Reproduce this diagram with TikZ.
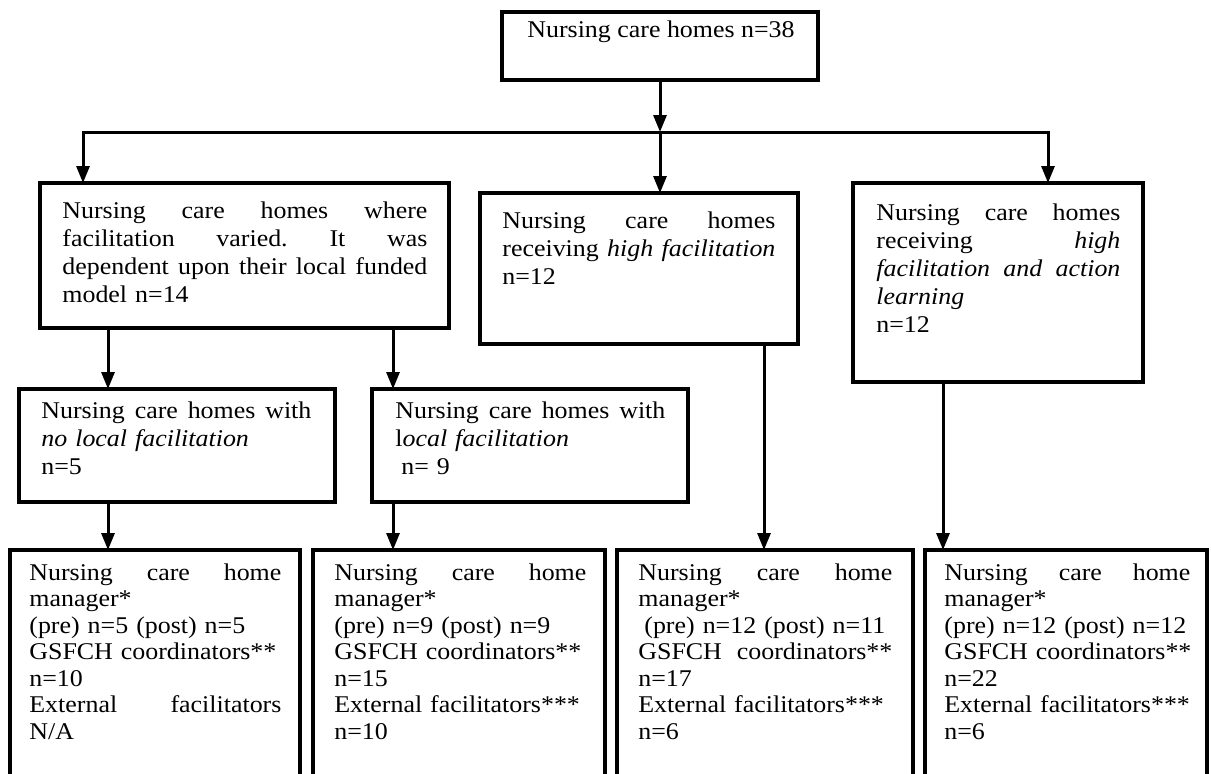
\documentclass[tikz,border=0pt]{standalone}
\usepackage{fontspec}
\setmainfont{Liberation Serif}[FakeStretch=1.08]
\usetikzlibrary{arrows.meta}
% a line of text spread to the full width \tw of its box
\newcommand{\spreadline}[1]{\makebox[\tw][s]{\spaceskip=0.25em plus 1fil\relax
  \xspaceskip=\spaceskip #1}}
\newcommand{\oneline}[1]{\mbox{#1}}
\begin{document}
\begin{tikzpicture}[x=0.5pt,y=-0.5pt,
  box/.style={draw, line width=1.6pt, rectangle, inner sep=0pt, outer sep=0pt, anchor=north west},
  txt/.style={inner sep=0pt, anchor=base west, font=\fontsize{12}{14}\selectfont},
  btxt/.style={txt, font=\fontsize{12}{13.25}\selectfont},
  tw/.style={text width=#1, execute at begin node={\def\tw{#1}}},
  arr/.style={line width=1.5pt, -{Triangle[width=6.5pt,length=8.5pt]}}]
\clip (0,0) rectangle (1211,773);

% boxes
\node[box, minimum width=158pt, minimum height=34pt] (T) at (502,12) {};
\node[box, minimum width=204.5pt, minimum height=72.5pt] (A) at (40,183) {};
\node[box, minimum width=159pt, minimum height=75.5pt] (B) at (480,193) {};
\node[box, minimum width=145pt, minimum height=99.5pt] (C) at (853,183) {};
\node[box, minimum width=158pt, minimum height=56.5pt] (D) at (19,389) {};
\node[box, minimum width=158pt, minimum height=56.5pt] (E) at (372,389) {};
\node[box, minimum width=145pt, minimum height=130pt] (F) at (10,550) {};
\node[box, minimum width=146pt, minimum height=130pt] (G) at (313,550) {};
\node[box, minimum width=148pt, minimum height=130pt] (H) at (617,550) {};
\node[box, minimum width=141pt, minimum height=130pt] (I) at (925,550) {};

% texts
\node[txt] (Tt) at ([shift={(25,25)}]T.north west) {Nursing care homes n=38};
\node[txt, tw=182.5pt] (At) at ([shift={(22,35)}]A.north west)
  {\spreadline{Nursing care homes where}\\
   \spreadline{facilitation varied. It was}\\
   \spreadline{dependent upon their local funded}\\
   \oneline{model n=14}};
\node[txt, tw=136.5pt] (Bt) at ([shift={(22,35)}]B.north west)
  {\spreadline{Nursing care homes}\\
   \spreadline{receiving \textit{high facilitation}}\\
   \oneline{n=12}};
\node[txt, tw=122pt] (Ct) at ([shift={(23,37)}]C.north west)
  {\spreadline{Nursing care homes}\\
   \spreadline{receiving \textit{high}}\\
   \spreadline{\textit{facilitation and action}}\\
   \oneline{\textit{learning}}\\
   \oneline{n=12}};
\node[txt, tw=135pt] (Dt) at ([shift={(22,29)}]D.north west)
  {\spreadline{Nursing care homes with}\\
   \oneline{\textit{no local facilitation}}\\
   \oneline{n=5}};
\node[txt, tw=135pt] (Et) at ([shift={(23,29)}]E.north west)
  {\spreadline{Nursing care homes with}\\
   \oneline{l\textit{ocal facilitation}}\\
   \oneline{\hspace{3pt}n= 9}};
\node[btxt, tw=126pt] (Ft) at ([shift={(19,30)}]F.north west)
  {\spreadline{Nursing care home}\\
   \oneline{manager*}\\
   \oneline{(pre) n=5 (post) n=5}\\
   \oneline{GSFCH coordinators**}\\
   \oneline{n=10}\\
   \spreadline{External facilitators}\\
   \oneline{N/A}};
\node[btxt, tw=126pt] (Gt) at ([shift={(21,30)}]G.north west)
  {\spreadline{Nursing care home}\\
   \oneline{manager*}\\
   \oneline{(pre) n=9 (post) n=9}\\
   \oneline{GSFCH coordinators**}\\
   \oneline{n=15}\\
   \oneline{External facilitators***}\\
   \oneline{n=10}};
\node[btxt, tw=127pt] (Ht) at ([shift={(21,30)}]H.north west)
  {\spreadline{Nursing care home}\\
   \oneline{manager*}\\
   \oneline{\hspace{3pt}(pre) n=12 (post) n=11}\\
   \spreadline{GSFCH coordinators**}\\
   \oneline{n=17}\\
   \oneline{External facilitators***}\\
   \oneline{n=6}};
\node[btxt, tw=123pt] (It) at ([shift={(19,30)}]I.north west)
  {\spreadline{Nursing care home}\\
   \oneline{manager*}\\
   \oneline{(pre) n=12 (post) n=12}\\
   \oneline{GSFCH coordinators**}\\
   \oneline{n=22}\\
   \oneline{External facilitators***}\\
   \oneline{n=6}};

% connector columns and the distribution bar
\coordinate (barM) at (660,132);
\coordinate (barL) at (83,132);
\coordinate (barR) at (1048,132);
\coordinate (colD) at (108,0);
\coordinate (colE) at (393,0);
\coordinate (colH) at (764,0);
\coordinate (colI) at (943,0);

% connectors
\draw[arr] (T.south) -- (barM);
\draw[arr] (barM) -- (barL) -- (barL |- A.north);
\draw[arr] (barM) -- (barR) -- (barR |- C.north);
\draw[arr] (barM) -- (barM |- B.north);
\draw[arr] (A.south -| colD) -- (D.north -| colD);
\draw[arr] (A.south -| colE) -- (E.north -| colE);
\draw[arr] (D.south -| colD) -- (F.north -| colD);
\draw[arr] (E.south -| colE) -- (G.north -| colE);
\draw[arr] (B.south -| colH) -- (H.north -| colH);
\draw[arr] (C.south -| colI) -- (I.north -| colI);
\end{tikzpicture}
\end{document}
